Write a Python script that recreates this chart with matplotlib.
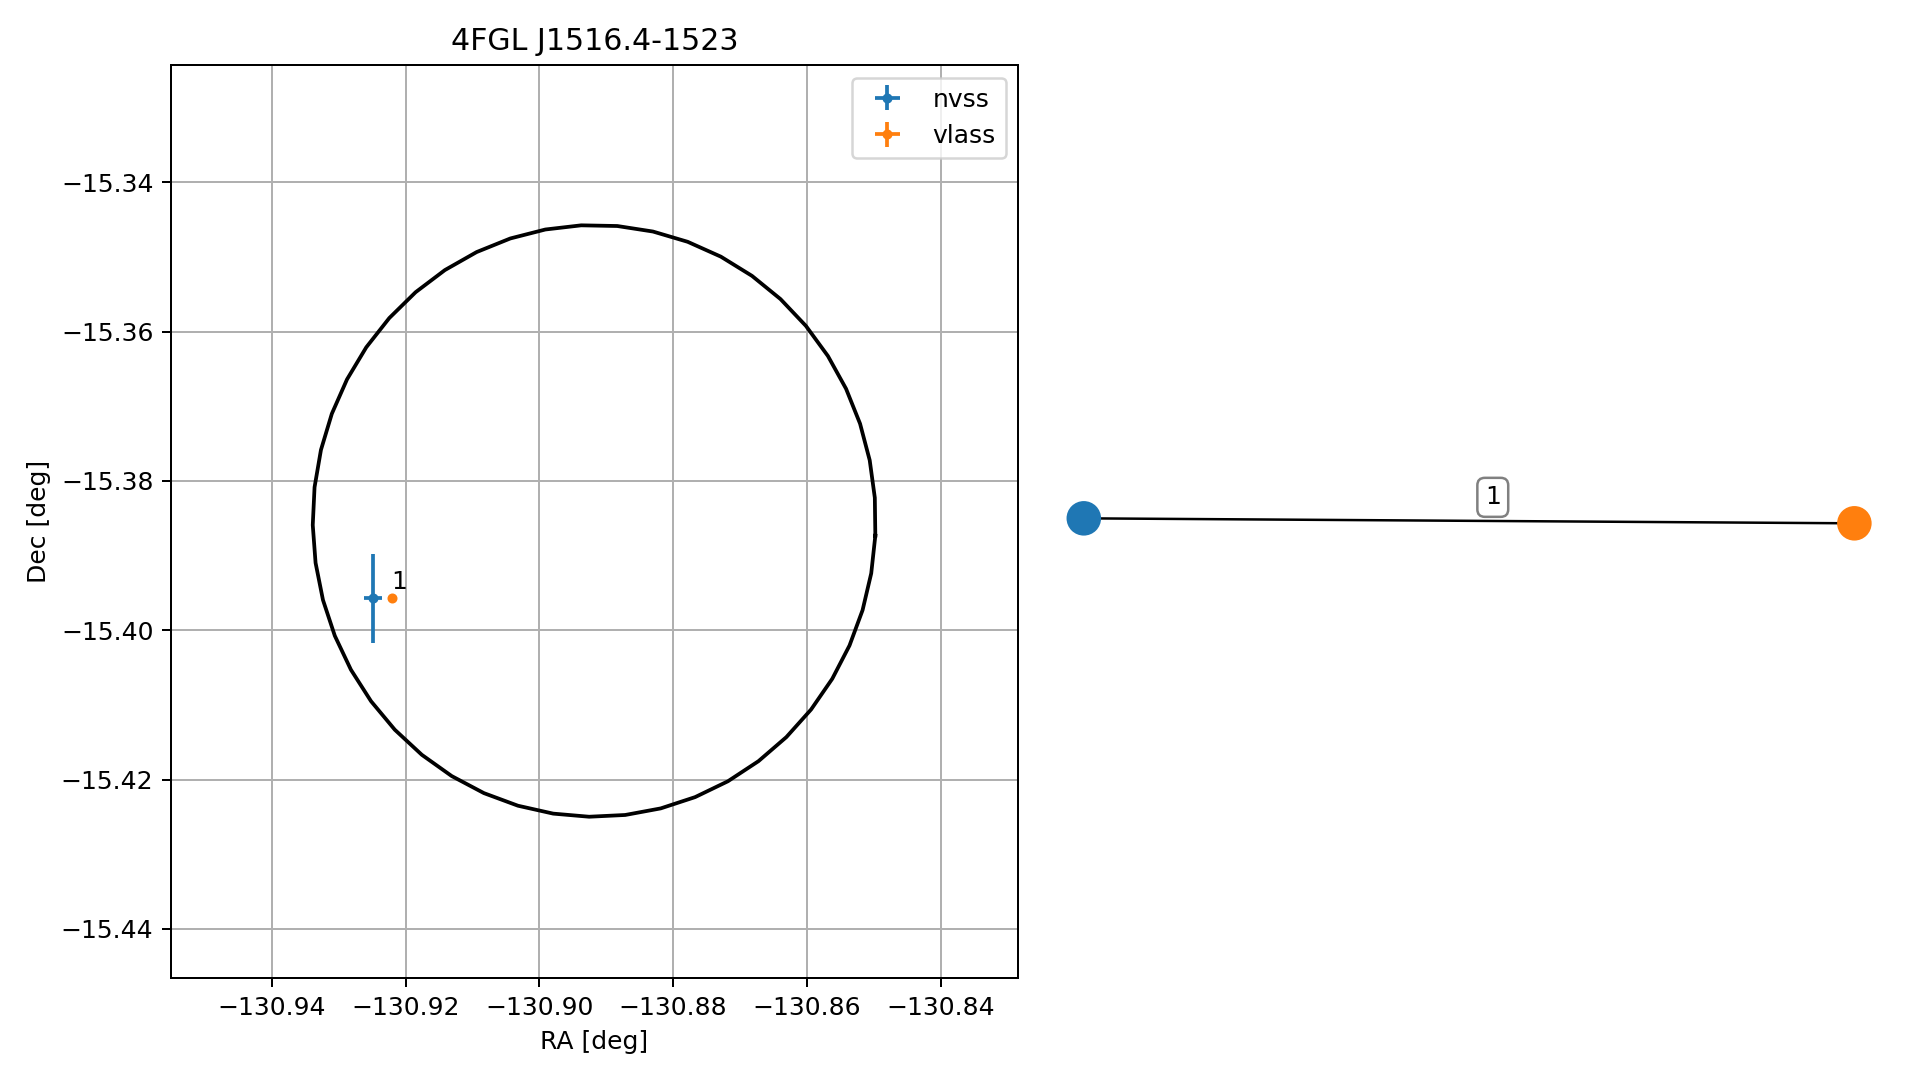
import numpy as np
import matplotlib
matplotlib.use("Agg")
import matplotlib.pyplot as plt

# source name and error ellipse (95%) of the Fermi source
title = "4FGL J1516.4-1523"
ell_ra, ell_dec = -130.89181, -15.38535
ell_a, ell_b = 0.0421, 0.03963   # semi-axes in RA / Dec [deg]
n_ell = 50

# radio counterparts
surveys = ["nvss", "vlass"]
ra = [-130.92494, -130.92201]
dec = [-15.39572, -15.39572]
ra_err = [0.00135, 0.0002]
dec_err = [0.00599, 0.0002]
match_labels = ["1"]

# match graph: node layout and edge labels
node_x = [-1.0, 1.0]
node_y = [0.0077, -0.0043]
edges = [(0, 1)]
edge_label_x = [0.0615]
edge_label_y = [0.0583]

fig = plt.figure(figsize=(1919 / 180, 6), dpi=180)
ax = fig.add_axes([0.0891, 0.0944, 0.4414, 0.8454])
ax2 = fig.add_axes([0.5447, 0.0944, 0.4417, 0.8454])

# ellipse
t = np.linspace(0, 2 * np.pi, n_ell) - 0.05
ax.plot(ell_ra + ell_a * np.cos(t), ell_dec + ell_b * np.sin(t), color="k")

for i, name in enumerate(surveys):
    ax.errorbar(ra[i], dec[i], xerr=ra_err[i], yerr=dec_err[i], fmt=".", label=name)

ax.annotate(match_labels[0], (ra[1], dec[1]), xytext=(-0.3, 3.6),
            textcoords="offset points")

ax.set_xlim(-130.95511, -130.82842)
ax.set_ylim(-15.44658, -15.32429)
ax.set_xlabel("RA [deg]")
ax.set_ylabel("Dec [deg]")
ax.set_title(title)
ax.grid(True)
ax.legend(loc="upper right")

# graph panel
for (a, b), lab, lx, ly in zip(edges, match_labels, edge_label_x, edge_label_y):
    ax2.plot([node_x[a], node_x[b]], [node_y[a], node_y[b]], color="k", lw=1.0, zorder=1)
    ax2.text(lx, ly, lab, ha="center", va="center",
             bbox=dict(boxstyle="round", ec="gray", fc="white"))
ax2.scatter(node_x, node_y, s=164, c=["C0", "C1"], zorder=2)
ax2.set_xlim(-1.1, 1.1)
ax2.set_ylim(-1.1, 1.1)
ax2.axis("off")

fig.savefig("out.png", dpi=180)
